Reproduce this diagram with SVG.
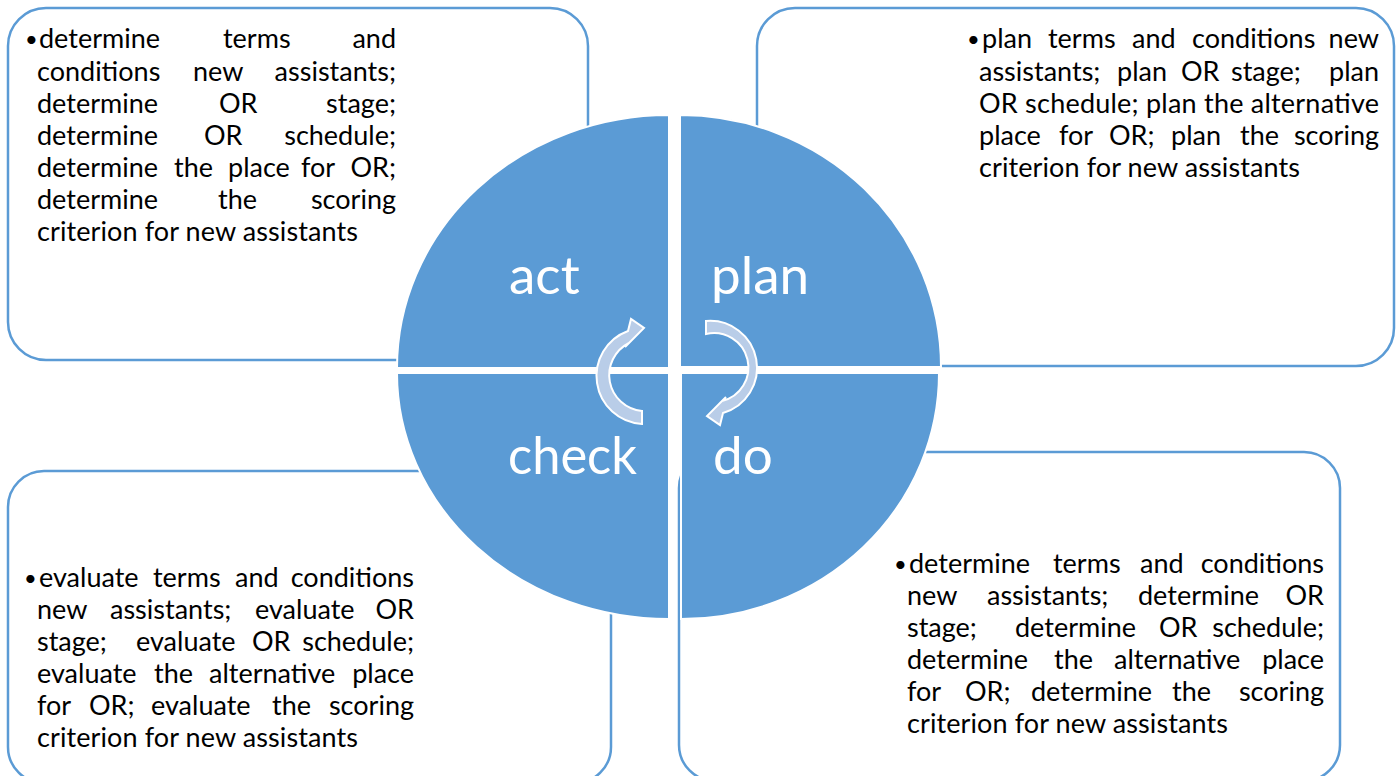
<svg xmlns="http://www.w3.org/2000/svg" width="1400" height="776" viewBox="0 0 1400 776">
<style>
.box{fill:#fff;stroke:#5b9bd5;stroke-width:2.5}
.q{fill:#5b9bd5;stroke:#fff;stroke-width:2}
.lbl{font-family:Lato,"Open Sans",sans-serif;font-size:53px;fill:#fff}
.t{font-family:Lato,"Open Sans",sans-serif;font-size:27px;fill:#000}
.b{font-family:Lato,"Open Sans",sans-serif;font-size:22px;fill:#000}
.e{text-anchor:end}
.arr{fill:#b9cde8;stroke:#fff;stroke-width:2;stroke-linejoin:miter}
</style>
<rect width="1400" height="776" fill="#fff"/>
<g id="box-act">
<rect class="box" x="8" y="8" width="580" height="352" rx="38"/>
<text class="b" x="25" y="47">•</text>
<text class="t" y="48"><tspan x="39">determine</tspan><tspan x="223">terms</tspan></text><text class="t e" x="396" y="48">and</text>
<text class="t" y="81"><tspan x="37">conditions</tspan><tspan x="193">new</tspan></text><text class="t e" x="396" y="81">assistants;</text>
<text class="t" y="113"><tspan x="37">determine</tspan><tspan x="219">OR</tspan></text><text class="t e" x="396" y="113">stage;</text>
<text class="t" y="145"><tspan x="37">determine</tspan><tspan x="204">OR</tspan></text><text class="t e" x="396" y="145">schedule;</text>
<text class="t" y="177"><tspan x="37">determine</tspan><tspan x="174">the</tspan><tspan x="228">place</tspan><tspan x="301">for</tspan></text><text class="t e" x="396" y="177">OR;</text>
<text class="t" y="209"><tspan x="37">determine</tspan><tspan x="218">the</tspan></text><text class="t e" x="396" y="209">scoring</text>
<text class="t" x="37" y="241" textLength="321" lengthAdjust="spacing">criterion for new assistants</text>
</g>
<g id="box-plan">
<rect class="box" x="757" y="8" width="637" height="358" rx="38"/>
<text class="b" x="967" y="47">•</text>
<text class="t" y="48"><tspan x="982">plan</tspan><tspan x="1048">terms</tspan><tspan x="1132">and</tspan><tspan x="1192">conditions</tspan></text><text class="t e" x="1379" y="48">new</text>
<text class="t" y="81"><tspan x="979">assistants;</tspan><tspan x="1117">plan</tspan><tspan x="1181">OR</tspan><tspan x="1231">stage;</tspan></text><text class="t e" x="1379" y="81">plan</text>
<text class="t" x="979" y="113" textLength="400" lengthAdjust="spacing">OR schedule; plan the alternative</text>
<text class="t" y="145"><tspan x="979">place</tspan><tspan x="1059">for</tspan><tspan x="1109">OR;</tspan><tspan x="1171">plan</tspan><tspan x="1240">the</tspan></text><text class="t e" x="1379" y="145">scoring</text>
<text class="t" x="979" y="177" textLength="321" lengthAdjust="spacing">criterion for new assistants</text>
</g>
<g id="box-check">
<rect class="box" x="8" y="471" width="603" height="312" rx="36"/>
<text class="b" x="24" y="586">•</text>
<text class="t" y="587"><tspan x="39">evaluate</tspan><tspan x="153">terms</tspan><tspan x="235">and</tspan></text><text class="t e" x="414" y="587">conditions</text>
<text class="t" y="619"><tspan x="37">new</tspan><tspan x="110">assistants;</tspan><tspan x="255">evaluate</tspan></text><text class="t e" x="414" y="619">OR</text>
<text class="t" y="651"><tspan x="37">stage;</tspan><tspan x="136">evaluate</tspan><tspan x="252">OR</tspan></text><text class="t e" x="414" y="651">schedule;</text>
<text class="t" y="683"><tspan x="37">evaluate</tspan><tspan x="154">the</tspan><tspan x="209">alternative</tspan></text><text class="t e" x="414" y="683">place</text>
<text class="t" y="715"><tspan x="37">for</tspan><tspan x="89">OR;</tspan><tspan x="151">evaluate</tspan><tspan x="272">the</tspan></text><text class="t e" x="414" y="715">scoring</text>
<text class="t" x="37" y="747" textLength="321" lengthAdjust="spacing">criterion for new assistants</text>
</g>
<g id="box-do">
<rect class="box" x="679" y="452" width="661" height="329" rx="36"/>
<text class="b" x="894" y="572">•</text>
<text class="t" y="573"><tspan x="909">determine</tspan><tspan x="1053">terms</tspan><tspan x="1140">and</tspan></text><text class="t e" x="1324" y="573">conditions</text>
<text class="t" y="605"><tspan x="907">new</tspan><tspan x="987">assistants;</tspan><tspan x="1138">determine</tspan></text><text class="t e" x="1324" y="605">OR</text>
<text class="t" y="637"><tspan x="907">stage;</tspan><tspan x="1015">determine</tspan><tspan x="1159">OR</tspan></text><text class="t e" x="1324" y="637">schedule;</text>
<text class="t" y="669"><tspan x="907">determine</tspan><tspan x="1054">the</tspan><tspan x="1114">alternative</tspan></text><text class="t e" x="1324" y="669">place</text>
<text class="t" y="701"><tspan x="907">for</tspan><tspan x="965">OR;</tspan><tspan x="1031">determine</tspan><tspan x="1172">the</tspan></text><text class="t e" x="1324" y="701">scoring</text>
<text class="t" x="907" y="733" textLength="321" lengthAdjust="spacing">criterion for new assistants</text>
</g>
<g id="q-act">
<path class="q" d="M669 368 L397 368 A272 253 0 0 1 669 115 Z"/>
<text class="lbl" x="509" y="294">act</text>
</g>
<g id="q-plan">
<path class="q" d="M680 367 L680 115 A261 252 0 0 1 941 367 Z"/>
<text class="lbl" x="711" y="294">plan</text>
</g>
<g id="q-check">
<path class="q" d="M669 373 L669 619 A272 246 0 0 1 397 373 Z"/>
<text class="lbl" x="508" y="474" textLength="129" lengthAdjust="spacingAndGlyphs">check</text>
</g>
<g id="q-do">
<path class="q" d="M681 373 L939 373 A258 246 0 0 1 681 619 Z"/>
<text class="lbl" x="713" y="474">do</text>
</g>
<g id="connectors">
<path class="arr" d="M642 424 A48 48 0 0 1 628 331 L631 319 L644 328 L625 347 L629 343 A36 36 0 0 0 642 411 Z"/>
<path class="arr" d="M706 321 A47 47 0 0 1 723 413 L720 425 L707 416 L726 397 L722 401 A34 34 0 0 0 706 334 Z"/>
</g>
</svg>
